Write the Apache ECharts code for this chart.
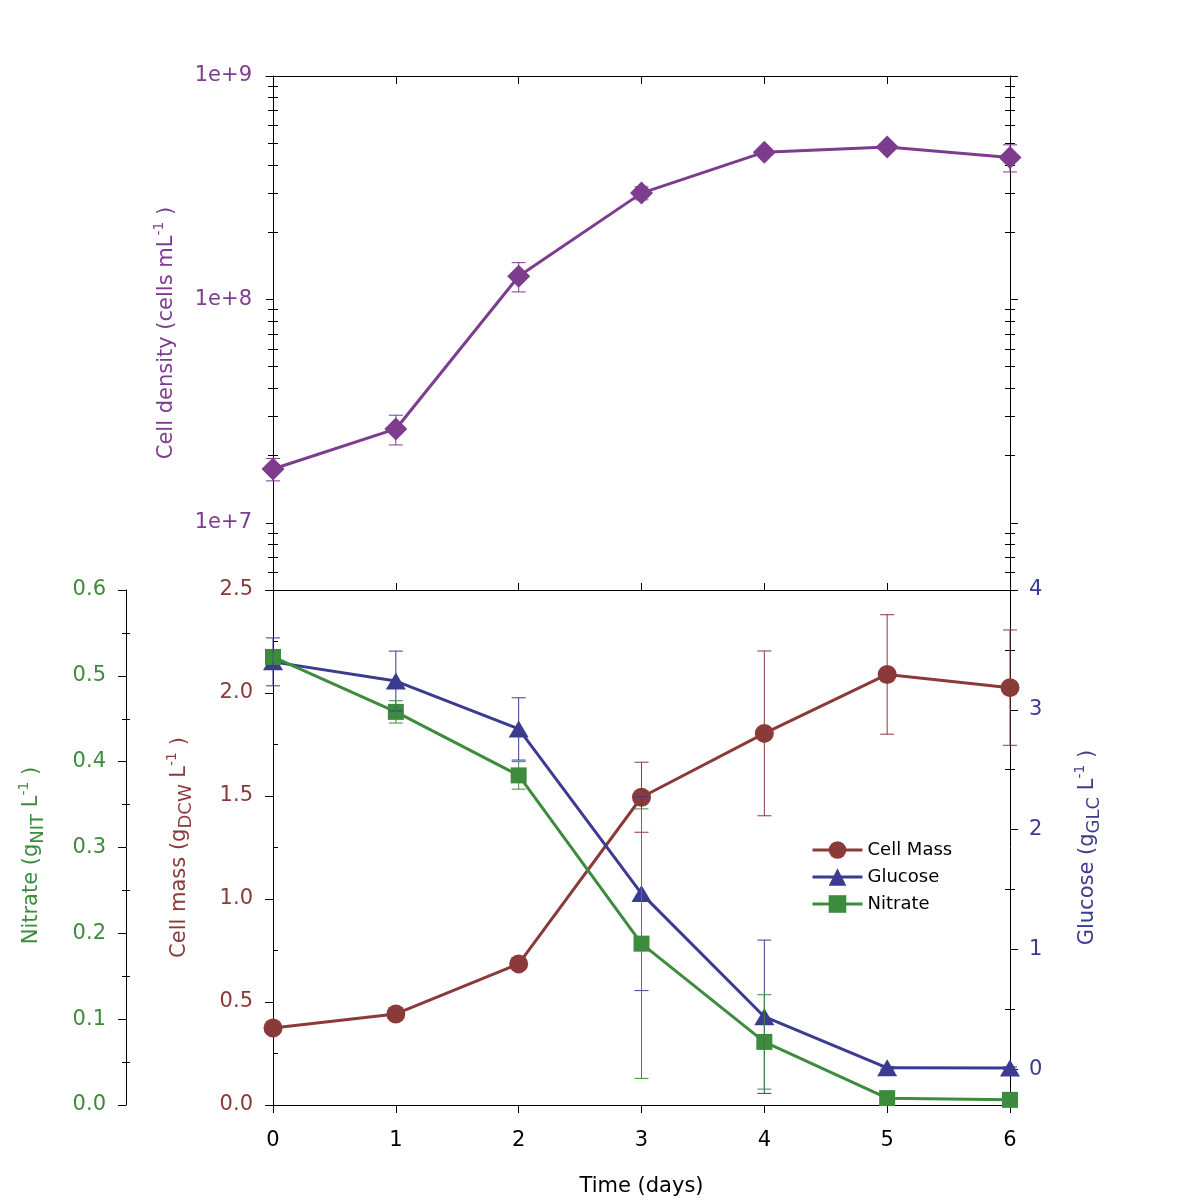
<!DOCTYPE html>
<html><head><meta charset="utf-8">
<script src="https://cdn.jsdelivr.net/npm/echarts@6/dist/echarts.min.js"></script>
<style>html,body{margin:0;padding:0;background:#fff}#c{width:1200px;height:1204px}</style>
</head><body><div id="c"></div>
<script>
// ---------------- data ----------------
const days = [0, 1, 2, 3, 4, 5, 6];
const cellDensity    = [1.74e7, 2.63e7, 1.27e8, 2.99e8, 4.56e8, 4.81e8, 4.32e8];
const cellDensityErr = [2.0e6, 4.0e6, 1.9e7, 2.0e7, 1.5e7, 1.5e7, 6.0e7];
const cellMass       = [0.374, 0.442, 0.685, 1.494, 1.804, 2.09, 2.026];
const cellMassErr    = [0.02, 0.02, 0.02, 0.17, 0.40, 0.29, 0.28];
const glucose        = [3.40, 3.24, 2.84, 1.465, 0.437, 0.01, 0.008];
const glucoseErr     = [0.20, 0.25, 0.26, 0.81, 0.64, 0.01, 0.01];
const nitrate        = [0.522, 0.458, 0.384, 0.188, 0.0735, 0.008, 0.006];
const nitrateErr     = [0.004, 0.013, 0.016, 0.157, 0.055, 0.003, 0.003];

// tick labels / tick positions
const xTicks = [0, 1, 2, 3, 4, 5, 6];
const densityMajor = [1e7, 1e8, 1e9];
const densityMinor = [6e6, 7e6, 8e6, 9e6,
  2e7, 3e7, 4e7, 5e7, 6e7, 7e7, 8e7, 9e7,
  2e8, 3e8, 4e8, 5e8, 6e8, 7e8, 8e8, 9e8];
const massMinor = [0.25, 0.75, 1.25, 1.75, 2.25];
const nitrateMinor = [0.05, 0.15, 0.25, 0.35, 0.45, 0.55];
const glucoseMajor = [0, 1, 2, 3, 4];
const glucoseMinor = [0.5, 1.5, 2.5, 3.5];

// ---------------- styles ----------------
const FONT = "'DejaVu Sans', sans-serif";
const PURPLE = '#7D3C8E', BROWN = '#8B3A3A', NAVY = '#3B3B8F', GREEN = '#3D8B3D';
const BLACK = '#000';

function richName(color) {
  return {
    a:   { fontSize: 21, fontFamily: FONT, color: color, lineHeight: 30 },
    sub: { fontSize: 18, fontFamily: FONT, color: color, lineHeight: 18, verticalAlign: 'bottom' },
    sup: { fontSize: 14, fontFamily: FONT, color: color, lineHeight: 14, verticalAlign: 'top' }
  };
}

function tickOnlyAxis(base, values, inside, len) {
  return Object.assign({
    axisLine: { show: false, onZero: false },
    axisTick: { show: true, customValues: values, inside: inside, length: len, lineStyle: { color: BLACK, width: 1 } },
    axisLabel: { show: false },
    splitLine: { show: false }
  }, base);
}

const X_MIN = -0.057, X_MAX = 6.057;

function xAxisBase(grid, pos, inside, len, withLabels) {
  return {
    type: 'value', gridIndex: grid, position: pos, min: X_MIN, max: X_MAX,
    axisLine: { show: true, onZero: false, lineStyle: { color: BLACK, width: 1 } },
    axisTick: { show: len > 0, customValues: xTicks, inside: inside, length: len, lineStyle: { color: BLACK } },
    axisLabel: withLabels ? { show: true, customValues: xTicks, fontSize: 21, fontFamily: FONT, color: BLACK, margin: 25 } : { show: false },
    splitLine: { show: false }
  };
}

const logBase = { type: 'log', logBase: 10, gridIndex: 0, min: 5e6, max: 1e9 };

const yAxes = [
  // 0 top-left main
  {
    type: 'log', logBase: 10, gridIndex: 0, position: 'left', offset: -7, min: 5e6, max: 1e9,
    axisLine: { show: true, onZero: false, lineStyle: { color: BLACK, width: 1 } },
    axisTick: { show: true, customValues: densityMajor, length: 7, lineStyle: { color: BLACK } },
    axisLabel: { show: true, customValues: densityMajor, fontSize: 21, fontFamily: FONT, color: PURPLE, margin: 21,
      formatter: v => '1e+' + Math.round(Math.log10(v)) },
    splitLine: { show: false },
    name: '{a|Cell density (cells mL}{sup|-1}{a| )}', nameLocation: 'middle', nameRotate: 90, nameGap: 91,
    nameTextStyle: { rich: richName(PURPLE) }
  },
  // 1,2 top-left minors
  tickOnlyAxis(Object.assign({ position: 'left', offset: -7 }, logBase), densityMinor, false, 5),
  tickOnlyAxis(Object.assign({ position: 'left', offset: -7 }, logBase), densityMinor, true, 5),
  // 3 top-right main
  {
    type: 'log', logBase: 10, gridIndex: 0, position: 'right', offset: -7, min: 5e6, max: 1e9,
    axisLine: { show: true, onZero: false, lineStyle: { color: BLACK, width: 1 } },
    axisTick: { show: true, customValues: densityMajor, length: 8, lineStyle: { color: BLACK } },
    axisLabel: { show: false }, splitLine: { show: false }
  },
  // 4,5 top-right minors
  tickOnlyAxis(Object.assign({ position: 'right', offset: -7 }, logBase), densityMinor, false, 5),
  tickOnlyAxis(Object.assign({ position: 'right', offset: -7 }, logBase), densityMinor, true, 5),
  // 6 cell mass main
  {
    type: 'value', gridIndex: 1, position: 'left', offset: -7, min: 0, max: 2.5, interval: 0.5,
    axisLine: { show: true, onZero: false, lineStyle: { color: BLACK, width: 1 } },
    axisTick: { show: true, length: 8, lineStyle: { color: BLACK } },
    axisLabel: { show: true, fontSize: 21, fontFamily: FONT, color: BROWN, margin: 20, formatter: v => v.toFixed(1) },
    splitLine: { show: false },
    name: '{a|Cell mass (g}{sub|DCW}{a| L}{sup|-1}{a| )}', nameLocation: 'middle', nameRotate: 90, nameGap: 78,
    nameTextStyle: { rich: richName(BROWN) }
  },
  // 7 cell mass minors inside
  tickOnlyAxis({ type: 'value', gridIndex: 1, position: 'left', offset: -7, min: 0, max: 2.5 }, massMinor, true, 5),
  // 8 nitrate main
  {
    type: 'value', gridIndex: 1, position: 'left', offset: 140, min: 0, max: 0.6, interval: 0.1,
    axisLine: { show: true, onZero: false, lineStyle: { color: BLACK, width: 1 } },
    axisTick: { show: true, length: 8, lineStyle: { color: BLACK } },
    minorTick: { show: true, splitNumber: 2, length: 4, lineStyle: { color: BLACK } },
    axisLabel: { show: true, fontSize: 21, fontFamily: FONT, color: GREEN, margin: 20, formatter: v => v.toFixed(1) },
    splitLine: { show: false }, minorSplitLine: { show: false },
    name: '{a|Nitrate (g}{sub|NIT}{a| L}{sup|-1}{a| )}', nameLocation: 'middle', nameRotate: 90, nameGap: 79,
    nameTextStyle: { rich: richName(GREEN), padding: [0, 16, 0, 0] }
  },
  // 9 nitrate minor inside
  tickOnlyAxis({ type: 'value', gridIndex: 1, position: 'left', offset: 140, min: 0, max: 0.6 }, nitrateMinor, true, 4),
  // 10 glucose main
  {
    type: 'value', gridIndex: 1, position: 'right', offset: -7, min: -0.3, max: 4,
    axisLine: { show: true, onZero: false, lineStyle: { color: BLACK, width: 1 } },
    axisTick: { show: true, customValues: glucoseMajor, length: 8, lineStyle: { color: BLACK } },
    axisLabel: { show: true, customValues: glucoseMajor, fontSize: 21, fontFamily: FONT, color: NAVY, margin: 19 },
    splitLine: { show: false },
    name: '{a|Glucose (g}{sub|GLC}{a| L}{sup|-1}{a| )}', nameLocation: 'middle', nameRotate: 90, nameGap: 63,
    nameTextStyle: { rich: richName(NAVY) }
  },
  // 11,12 glucose minors
  tickOnlyAxis({ type: 'value', gridIndex: 1, position: 'right', offset: -7, min: -0.3, max: 4 }, glucoseMinor, false, 5),
  tickOnlyAxis({ type: 'value', gridIndex: 1, position: 'right', offset: -7, min: -0.3, max: 4 }, glucoseMinor, true, 5)
];

const xAxes = [
  xAxisBase(0, 'bottom', true, 7, false),
  xAxisBase(0, 'top', true, 8, false),
  Object.assign(xAxisBase(1, 'bottom', false, 8, true), {
    name: 'Time (days)', nameLocation: 'middle', nameGap: 71,
    nameTextStyle: { fontSize: 21, fontFamily: FONT, color: BLACK }
  }),
  xAxisBase(1, 'top', false, 0, false)
];

function lineSeries(name, xi, yi, vals, color, symbol, size) {
  return {
    name: name, type: 'line', xAxisIndex: xi, yAxisIndex: yi,
    data: days.map((d, i) => [d, vals[i]]),
    symbol: symbol, symbolSize: size, showSymbol: true, clip: false,
    lineStyle: { color: color, width: 3 },
    itemStyle: { color: color },
    emphasis: { disabled: true }, z: 3
  };
}

function errSeries(xi, yi, vals, errs, color) {
  return {
    type: 'custom', xAxisIndex: xi, yAxisIndex: yi, silent: true, z: 5, clip: false,
    data: days.map((d, i) => [d, vals[i] - errs[i], vals[i] + errs[i]]),
    encode: { x: 0, y: [1, 2] },
    renderItem: function (params, api) {
      const x = api.value(0), lo = api.value(1), hi = api.value(2);
      const pHi = api.coord([x, hi]), pLo = api.coord([x, lo]);
      const w = 7;
      const st = { stroke: color, lineWidth: 1 };
      return {
        type: 'group', children: [
          { type: 'line', shape: { x1: pHi[0], y1: pHi[1], x2: pLo[0], y2: pLo[1] }, style: st },
          { type: 'line', shape: { x1: pHi[0] - w, y1: pHi[1], x2: pHi[0] + w, y2: pHi[1] }, style: st },
          { type: 'line', shape: { x1: pLo[0] - w, y1: pLo[1], x2: pLo[0] + w, y2: pLo[1] }, style: st }
        ]
      };
    }
  };
}

const option = {
  animation: false,
  backgroundColor: '#fff',
  grid: [
    { left: 266, right: 183, top: 76, height: 514, outerBoundsMode: 'none' },
    { left: 266, right: 183, top: 590, height: 515, outerBoundsMode: 'none' }
  ],
  legend: {
    data: ['Cell Mass', 'Glucose', 'Nitrate'],
    orient: 'vertical', left: 806, top: 836,
    itemWidth: 50, itemHeight: 22, itemGap: 9,
    lineStyle: { width: 3 },
    textStyle: { fontSize: 18, fontFamily: FONT, color: BLACK },
    selectedMode: false
  },
  xAxis: xAxes,
  yAxis: yAxes,
  series: [
    lineSeries('Cell density', 0, 0, cellDensity, PURPLE, 'diamond', [23, 23]),
    errSeries(0, 0, cellDensity, cellDensityErr, PURPLE),
    lineSeries('Cell Mass', 2, 6, cellMass, BROWN, 'circle', 19),
    lineSeries('Glucose', 2, 10, glucose, NAVY, 'triangle', [20, 17]),
    lineSeries('Nitrate', 2, 8, nitrate, GREEN, 'rect', 16),
    errSeries(2, 6, cellMass, cellMassErr, BROWN),
    errSeries(2, 10, glucose, glucoseErr, NAVY),
    errSeries(2, 8, nitrate, nitrateErr, GREEN)
  ]
};

const chart = echarts.init(document.getElementById('c'));
chart.setOption(option);
</script>
</body></html>
